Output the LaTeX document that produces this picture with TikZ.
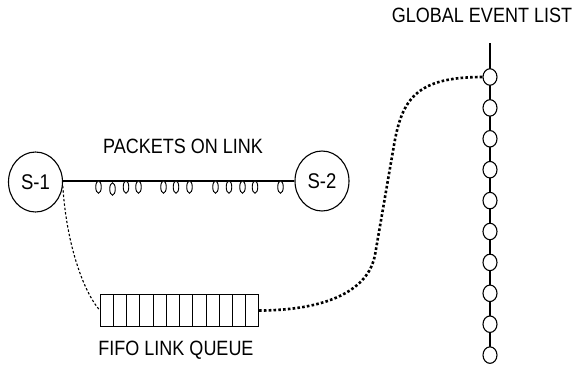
\documentclass[tikz,border=0pt]{standalone}
\usepackage{fontspec}
\setmainfont{Liberation Sans}
\usetikzlibrary{shapes.geometric,calc}
% labels are set in a slightly condensed-looking, taller sans
\newcommand\tallcaps[1]{\scalebox{1}[1.15]{#1}}
\begin{document}
\begin{tikzpicture}[x=1pt,y=-1pt,
  label text/.style={font=\fontsize{18}{20}\selectfont, inner sep=0pt},
  station/.style={ellipse, draw, line width=1.1pt, minimum width=54pt, minimum height=60pt, inner sep=0pt, fill=white, font=\fontsize{18.5}{20}\selectfont},
  packet/.style={ellipse, draw, line width=0.9pt, minimum width=5.5pt, minimum height=12.5pt, inner sep=0pt, fill=white},
  event/.style={ellipse, draw, line width=1.1pt, minimum width=14pt, minimum height=16.5pt, inner sep=0pt, fill=white},
  wire/.style={line width=1.1pt},
  thin dots/.style={line width=1.1pt, dash pattern=on 2.4pt off 2pt},
  thick dots/.style={line width=2.6pt, dash pattern=on 2.6pt off 2.2pt}]
\useasboundingbox (0,0) rectangle (574,375);

% stations and the link between them
\node[station] (s1) at (35.5,182) {\tallcaps{S-1}};
\node[station] (s2) at (322,181) {\tallcaps{S-2}};
\draw[wire] (s1.east |- 0,181) coordinate (la) -- (s2.west |- 0,181) coordinate (lb);
\node[label text, anchor=base] (plink) at (183,153) {\tallcaps{PACKETS ON LINK}};

% packets travelling on the link
\foreach \px/\py [count=\i] in {98.5/187, 112.5/189, 126/187, 138.5/187, 163.5/187, 176/187, 189.5/187, 215.5/187, 229/187, 242.5/187, 255/187, 280.5/187}
  \node[packet] (p\i) at (\px,\py) {};

% FIFO link queue
\node[draw, line width=1.1pt, minimum width=158pt, minimum height=32pt, inner sep=0pt, anchor=north west] (queue) at (100,294) {};
\foreach \k in {1,...,11}
  \draw[line width=1pt] ($(queue.north west)!\k/12!(queue.north east)$) -- ($(queue.south west)!\k/12!(queue.south east)$);
\node[label text, anchor=base] (qlabel) at (176,355) {\tallcaps{FIFO LINK QUEUE}};

% global event list
\coordinate (gtop) at (490,43);
\foreach \k in {0,...,9}
  \coordinate (g\k) at (490,{77+30.9*\k});
\draw[wire] (gtop) -- (g9);
\foreach \k in {0,...,9}
  \node[event] (e\k) at (g\k) {};
\node[label text, anchor=base] (glabel) at (482,22) {\tallcaps{GLOBAL EVENT LIST}};

% dotted associations
\draw[thin dots] (s1.-8) .. controls (66,240) and (82,290) .. (queue.west);
\draw[thick dots] (queue.east) .. controls (340,310) and (370,283) .. (375,255)
  -- (394,145) .. controls (402,100) and (415,77) .. (e0.west);
\end{tikzpicture}
\end{document}
